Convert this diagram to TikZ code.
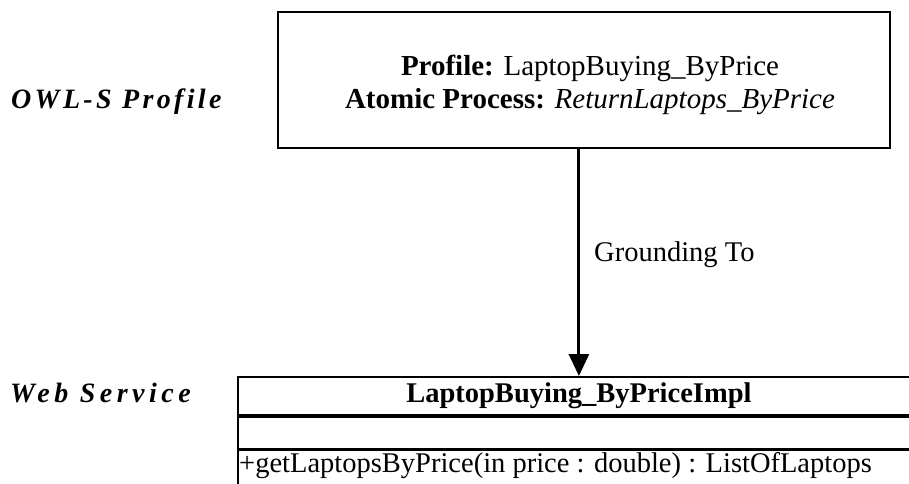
\documentclass[tikz,border=0pt]{standalone}
\usepackage{fontspec}
\setmainfont{Liberation Serif}
\usetikzlibrary{arrows.meta}
\tikzset{
  boxline/.style={draw=black, line width=1.8pt},
  sidelabel/.style={anchor=west, inner sep=0pt,
    font=\fontsize{28}{30}\selectfont\bfseries\itshape\addfontfeatures{LetterSpace=#1}},
  compartment/.style={boxline, minimum width=682pt, anchor=north west, inner sep=0pt},
  plain/.style={inner sep=0pt}
}
\begin{document}
\begin{tikzpicture}[x=1pt, y=-1pt, font=\fontsize{28.5}{31}\selectfont]
\useasboundingbox (0,0) rectangle (909,483);

% OWL-S profile box
\node[boxline, minimum width=612pt, minimum height=136pt, inner sep=0pt]
  (profile) at (584,80) {};
\node[plain, align=center, font=\fontsize{29}{33}\selectfont] (profiletext) at (590,85)
  {\textbf{Profile:} LaptopBuying\_ByPrice\\
   \textbf{Atomic Process:} \textit{ReturnLaptops\_ByPrice}};

% layer captions
\node[sidelabel=12] (owl) at (11,102) {OWL-S Profile};
\node[sidelabel=16] (ws) at (10,393) {Web Service};

% UML class of the web service
\node[compartment, minimum height=38pt] (hdr) at (237,376) {\textbf{LaptopBuying\_ByPriceImpl}};
\node[compartment, minimum height=32pt] (attrs) at (hdr.south west) {};
\node[compartment, minimum height=60pt] (ops) at (attrs.south west) {};
\node[plain, anchor=west] (op1) at (239,466) {+getLaptopsByPrice(in price : double) : ListOfLaptops};

% grounding relation
\draw[line width=3pt, -{Triangle[length=22pt, width=20pt]}]
  (profile.south -| hdr.north) -- (hdr.north);
\node[plain, anchor=west] (ground) at (594,255) {Grounding To};
\end{tikzpicture}
\end{document}
